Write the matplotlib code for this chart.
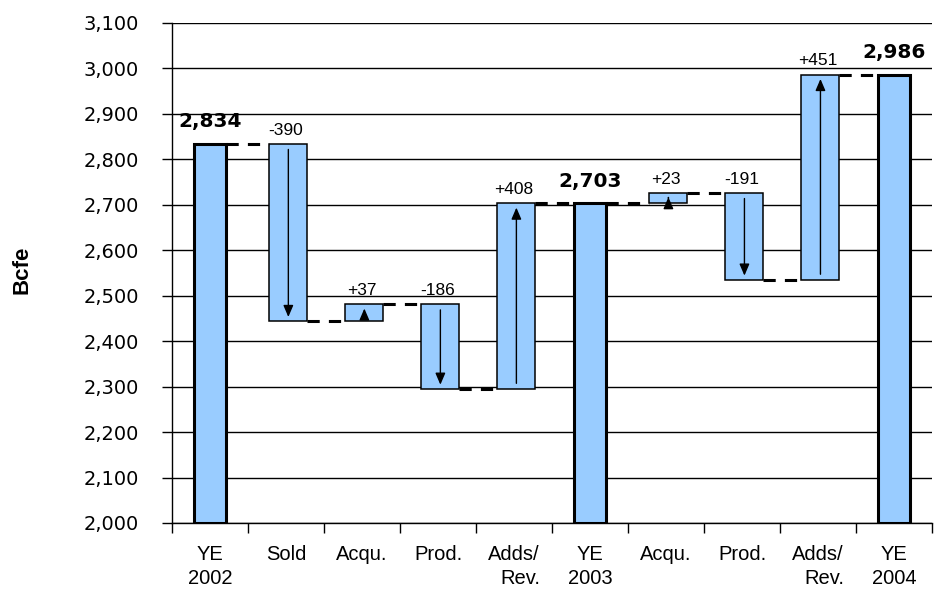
import matplotlib
matplotlib.use("Agg")
import matplotlib.pyplot as plt
from matplotlib.ticker import MultipleLocator, FuncFormatter

# Reserve walk, Bcfe
categories = ["YE\n2002", "Sold", "Acqu.", "Prod.", "Adds/\nRev.",
              "YE\n2003", "Acqu.", "Prod.", "Adds/\nRev.", "YE\n2004"]
kinds = ["total", "delta", "delta", "delta", "delta",
         "total", "delta", "delta", "delta", "total"]
values = [2834, -390, 37, -186, 408, 2703, 23, -191, 451, 2986]

y_min, y_max, y_step = 2000, 3100, 100

plt.rcParams["font.family"] = ["Liberation Sans", "DejaVu Sans"]

fig = plt.figure(figsize=(9.35, 5.97), dpi=100)
ax = fig.add_axes([0.184, 0.124, 0.813, 0.8375])

fill = "#99CCFF"
xs = list(range(len(categories)))

# running levels: start and end of each bar
starts, ends = [], []
level = 0
for k, v in zip(kinds, values):
    if k == "total":
        starts.append(y_min)
        ends.append(v)
        level = v
    else:
        starts.append(level)
        level = level + v
        ends.append(level)

total_w, delta_w = 0.42, 0.5
widths = [total_w if k == "total" else delta_w for k in kinds]
offs = [0 if k == "total" else 0.03 for k in kinds]

for x, k, s, e, w, v, o in zip(xs, kinds, starts, ends, widths, values, offs):
    lo, hi = min(s, e), max(s, e)
    if k == "total":
        ax.bar(x + o, hi - lo, bottom=lo, width=w, color=fill,
               edgecolor="black", linewidth=2.2, zorder=3)
        ax.text(x, hi + 28, f"{v:,}", ha="center", va="bottom",
                fontsize=14.5, fontweight="bold", family="DejaVu Sans",
                zorder=5)
    else:
        ax.bar(x + o, hi - lo, bottom=lo, width=w, color=fill,
               edgecolor="black", linewidth=1.1, zorder=3)
        ax.annotate("", xy=(x + o, e), xytext=(x + o, s),
                    arrowprops=dict(arrowstyle="-|>,head_length=0.7,head_width=0.3",
                                    color="black", lw=1.0,
                                    shrinkA=4, shrinkB=3),
                    zorder=4)
        ax.text(x, hi + 14, f"{v:+d}", ha="center", va="bottom",
                fontsize=12.5, zorder=5)

# dashed connectors between consecutive bars
for i in range(len(xs) - 1):
    lvl = ends[i]
    x0 = xs[i] + offs[i] + widths[i] / 2
    x1 = xs[i + 1] + offs[i + 1] - widths[i + 1] / 2
    ax.plot([x0, x1], [lvl, lvl], color="black", lw=2.2,
            linestyle=(0, (4, 3)), zorder=4, solid_capstyle="butt")

ax.set_xlim(-0.5, len(categories) - 0.5)
ax.set_ylim(y_min, y_max)
ax.yaxis.set_major_locator(MultipleLocator(y_step))
ax.yaxis.set_major_formatter(FuncFormatter(lambda v, p: f"{int(v):,}"))
ax.grid(axis="y", color="black", linewidth=1.0, zorder=1)
ax.set_axisbelow(True)

for side in ("top", "right"):
    ax.spines[side].set_visible(False)
ax.spines["left"].set_linewidth(1.0)
ax.spines["bottom"].set_linewidth(1.0)

ax.set_xticks([i - 0.5 for i in range(len(categories) + 1)], minor=False)
ax.set_xticklabels([])
ax.set_xticks(xs, minor=True)
ax.set_xticklabels(categories, minor=True, fontsize=14.5, linespacing=1.35)
ax.tick_params(axis="x", which="major", length=7, width=1, direction="out")
ax.tick_params(axis="x", which="minor", length=0, pad=16)
ax.tick_params(axis="y", length=7, width=1, direction="out", pad=17,
               labelsize=14, labelfontfamily="DejaVu Sans")
for lab, cat in zip(ax.get_xticklabels(minor=True), categories):
    lab.set_multialignment("center" if cat.startswith("YE") else "right")

ax.set_ylabel("Bcfe", fontsize=16, fontweight="bold")
ax.yaxis.set_label_coords(-0.183, 0.506)

fig.savefig("out.png", dpi=100)
